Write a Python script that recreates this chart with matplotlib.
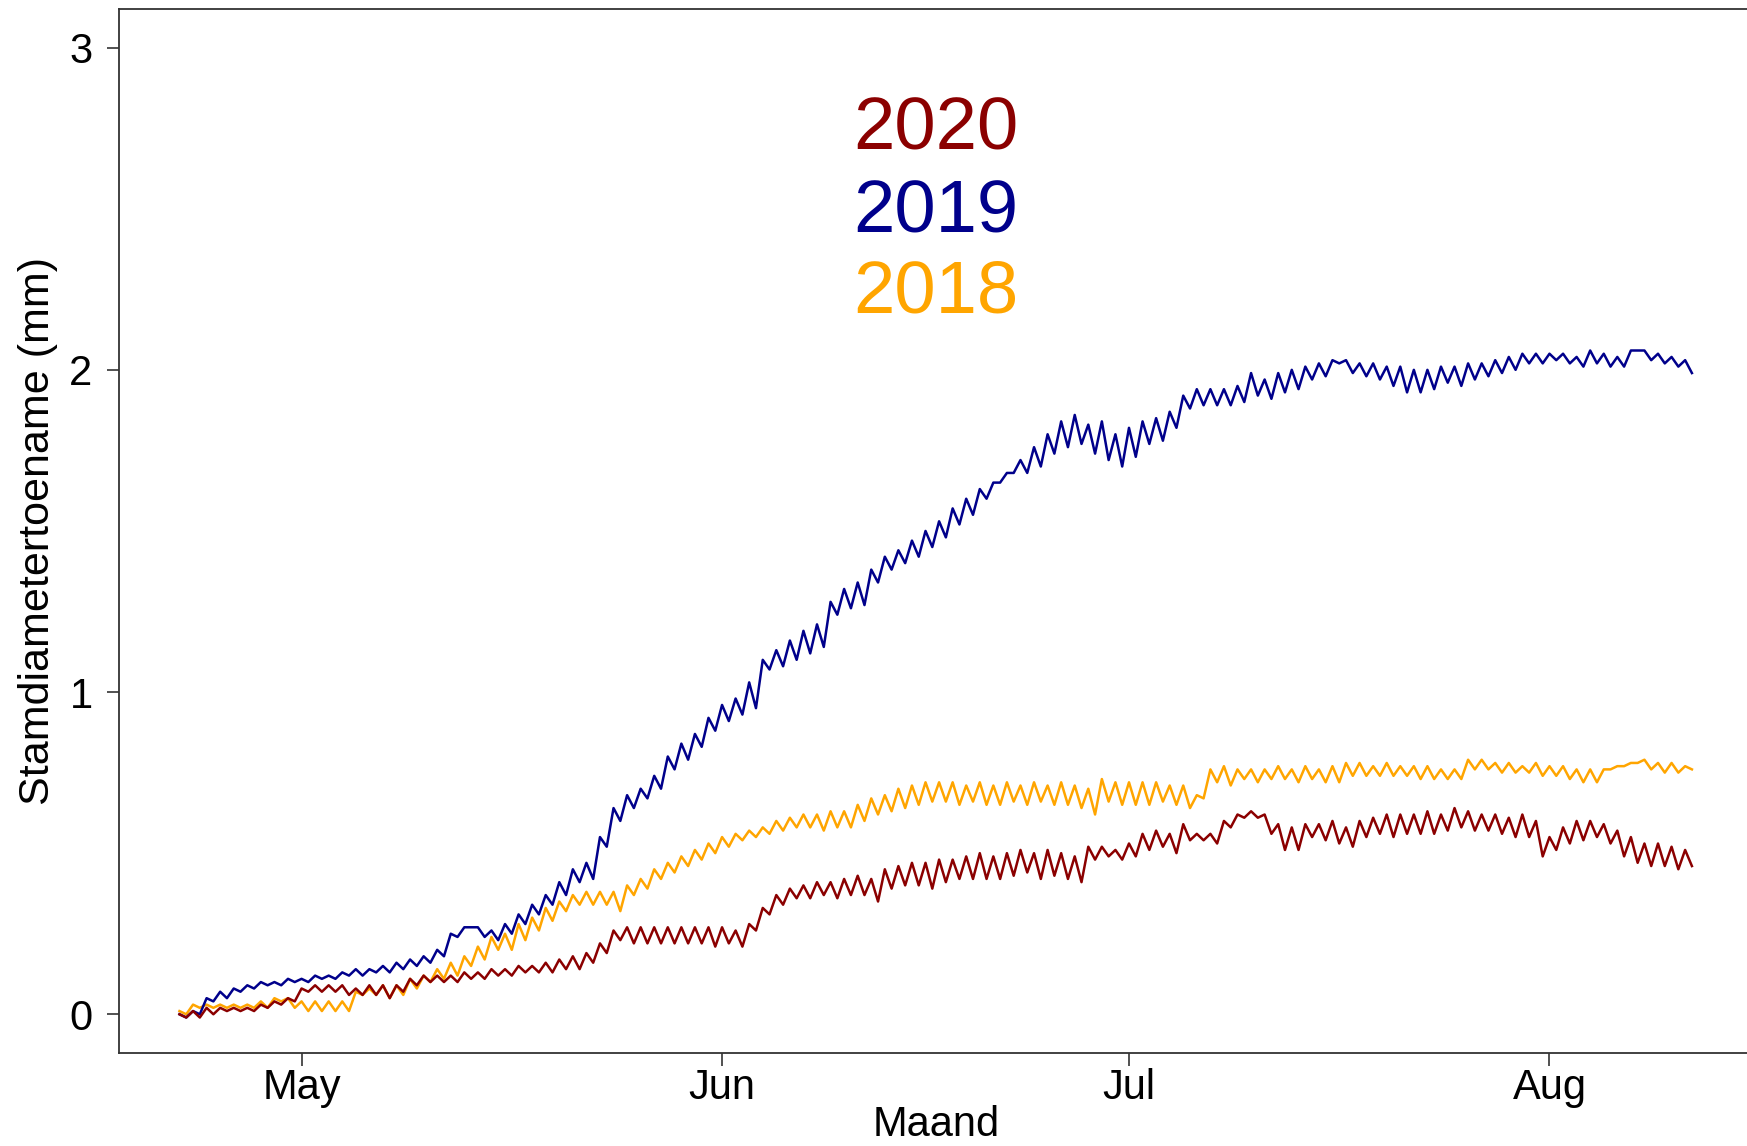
#!/usr/bin/env python3
# stem diameter increment, three growing seasons on one month axis

import numpy as np
import pandas as pd
import matplotlib
matplotlib.use('Agg')
import matplotlib.pyplot as plt
import matplotlib.dates as mdates

plt.rcParams['font.family'] = ['Liberation Sans', 'DejaVu Sans']

# twice-daily readings (morning high, afternoon low) from 22 April on, in mm
start_date = '2020-04-22'
step = '12h'

val_2019 = [
    0.00, -0.01, 0.01, 0.00, 0.05, 0.04, 0.07, 0.05, 0.08, 0.07, 0.09, 0.08, 0.10, 0.09,
    0.10, 0.09, 0.11, 0.10, 0.11, 0.10, 0.12, 0.11, 0.12, 0.11, 0.13, 0.12, 0.14, 0.12,
    0.14, 0.13, 0.15, 0.13, 0.16, 0.14, 0.17, 0.15, 0.18, 0.16, 0.20, 0.18, 0.25, 0.24,
    0.27, 0.27, 0.27, 0.24, 0.26, 0.23, 0.28, 0.25, 0.31, 0.28, 0.34, 0.31, 0.37, 0.34,
    0.41, 0.37, 0.45, 0.41, 0.47, 0.42, 0.55, 0.52, 0.64, 0.60, 0.68, 0.64, 0.70, 0.67,
    0.74, 0.70, 0.80, 0.76, 0.84, 0.79, 0.87, 0.83, 0.92, 0.88, 0.96, 0.91, 0.98, 0.93,
    1.03, 0.95, 1.10, 1.07, 1.13, 1.08, 1.16, 1.10, 1.19, 1.12, 1.21, 1.14, 1.28, 1.24,
    1.32, 1.26, 1.34, 1.27, 1.38, 1.34, 1.42, 1.38, 1.44, 1.40, 1.47, 1.42, 1.50, 1.45,
    1.53, 1.48, 1.57, 1.52, 1.60, 1.55, 1.63, 1.60, 1.65, 1.65, 1.68, 1.68, 1.72, 1.68,
    1.76, 1.70, 1.80, 1.74, 1.84, 1.76, 1.86, 1.77, 1.83, 1.74, 1.84, 1.72, 1.80, 1.70,
    1.82, 1.73, 1.84, 1.77, 1.85, 1.78, 1.87, 1.82, 1.92, 1.88, 1.94, 1.89, 1.94, 1.89,
    1.94, 1.89, 1.95, 1.90, 1.99, 1.92, 1.97, 1.91, 1.99, 1.93, 2.00, 1.94, 2.01, 1.97,
    2.02, 1.98, 2.03, 2.02, 2.03, 1.99, 2.02, 1.98, 2.02, 1.97, 2.01, 1.95, 2.01, 1.93,
    2.00, 1.93, 2.00, 1.94, 2.01, 1.96, 2.01, 1.95, 2.02, 1.97, 2.02, 1.98, 2.03, 1.99,
    2.04, 2.00, 2.05, 2.02, 2.05, 2.02, 2.05, 2.03, 2.05, 2.02, 2.04, 2.01, 2.06, 2.02,
    2.05, 2.01, 2.04, 2.01, 2.06, 2.06, 2.06, 2.03, 2.05, 2.02, 2.04, 2.01, 2.03, 1.99,
]

val_2018 = [
    0.01, 0.00, 0.03, 0.02, 0.03, 0.02, 0.03, 0.02, 0.03, 0.02, 0.03, 0.02, 0.04, 0.02,
    0.05, 0.04, 0.05, 0.02, 0.04, 0.01, 0.04, 0.01, 0.04, 0.01, 0.04, 0.01, 0.07, 0.06,
    0.08, 0.06, 0.09, 0.05, 0.09, 0.06, 0.11, 0.08, 0.12, 0.10, 0.14, 0.11, 0.16, 0.12,
    0.18, 0.15, 0.21, 0.17, 0.24, 0.20, 0.25, 0.20, 0.28, 0.23, 0.30, 0.26, 0.33, 0.29,
    0.35, 0.32, 0.37, 0.34, 0.38, 0.34, 0.38, 0.34, 0.38, 0.32, 0.40, 0.37, 0.42, 0.39,
    0.45, 0.42, 0.47, 0.44, 0.49, 0.46, 0.51, 0.48, 0.53, 0.50, 0.55, 0.52, 0.56, 0.54,
    0.57, 0.55, 0.58, 0.56, 0.60, 0.57, 0.61, 0.58, 0.62, 0.58, 0.62, 0.57, 0.63, 0.58,
    0.63, 0.58, 0.65, 0.60, 0.67, 0.62, 0.68, 0.63, 0.70, 0.64, 0.71, 0.65, 0.72, 0.66,
    0.72, 0.66, 0.72, 0.65, 0.71, 0.66, 0.72, 0.65, 0.71, 0.65, 0.72, 0.66, 0.71, 0.65,
    0.72, 0.66, 0.71, 0.65, 0.72, 0.65, 0.71, 0.64, 0.70, 0.62, 0.73, 0.66, 0.72, 0.65,
    0.72, 0.65, 0.72, 0.65, 0.72, 0.66, 0.71, 0.65, 0.71, 0.64, 0.68, 0.67, 0.76, 0.72,
    0.77, 0.71, 0.76, 0.73, 0.76, 0.72, 0.76, 0.73, 0.77, 0.73, 0.76, 0.72, 0.77, 0.73,
    0.76, 0.72, 0.77, 0.72, 0.78, 0.74, 0.78, 0.74, 0.77, 0.74, 0.78, 0.74, 0.77, 0.74,
    0.77, 0.73, 0.77, 0.73, 0.76, 0.73, 0.76, 0.73, 0.79, 0.76, 0.79, 0.76, 0.78, 0.75,
    0.78, 0.75, 0.77, 0.75, 0.78, 0.74, 0.77, 0.74, 0.77, 0.73, 0.76, 0.72, 0.76, 0.72,
    0.76, 0.76, 0.77, 0.77, 0.78, 0.78, 0.79, 0.76, 0.78, 0.75, 0.78, 0.75, 0.77, 0.76,
]

val_2020 = [
    0.00, -0.01, 0.01, -0.01, 0.02, 0.00, 0.02, 0.01, 0.02, 0.01, 0.02, 0.01, 0.03, 0.02,
    0.04, 0.03, 0.05, 0.04, 0.08, 0.07, 0.09, 0.07, 0.09, 0.07, 0.09, 0.06, 0.08, 0.06,
    0.09, 0.06, 0.09, 0.05, 0.09, 0.07, 0.11, 0.09, 0.12, 0.10, 0.12, 0.10, 0.12, 0.10,
    0.13, 0.11, 0.13, 0.11, 0.14, 0.12, 0.14, 0.12, 0.15, 0.13, 0.15, 0.13, 0.16, 0.13,
    0.17, 0.14, 0.18, 0.14, 0.19, 0.16, 0.22, 0.19, 0.26, 0.23, 0.27, 0.22, 0.27, 0.22,
    0.27, 0.22, 0.27, 0.22, 0.27, 0.22, 0.27, 0.22, 0.27, 0.21, 0.27, 0.22, 0.26, 0.21,
    0.28, 0.26, 0.33, 0.31, 0.37, 0.34, 0.39, 0.36, 0.40, 0.36, 0.41, 0.37, 0.41, 0.36,
    0.42, 0.37, 0.43, 0.37, 0.42, 0.35, 0.45, 0.39, 0.46, 0.40, 0.47, 0.40, 0.47, 0.39,
    0.48, 0.41, 0.48, 0.42, 0.49, 0.42, 0.50, 0.42, 0.49, 0.42, 0.50, 0.43, 0.51, 0.44,
    0.50, 0.42, 0.51, 0.43, 0.50, 0.42, 0.49, 0.41, 0.52, 0.48, 0.52, 0.49, 0.51, 0.48,
    0.53, 0.49, 0.56, 0.51, 0.57, 0.52, 0.56, 0.50, 0.59, 0.54, 0.56, 0.54, 0.56, 0.53,
    0.60, 0.58, 0.62, 0.61, 0.63, 0.61, 0.62, 0.56, 0.59, 0.51, 0.58, 0.51, 0.59, 0.55,
    0.59, 0.54, 0.60, 0.53, 0.58, 0.52, 0.60, 0.55, 0.61, 0.56, 0.62, 0.55, 0.62, 0.56,
    0.62, 0.56, 0.63, 0.56, 0.62, 0.57, 0.64, 0.58, 0.63, 0.57, 0.62, 0.57, 0.62, 0.56,
    0.61, 0.55, 0.62, 0.55, 0.60, 0.49, 0.55, 0.51, 0.58, 0.53, 0.60, 0.54, 0.60, 0.55,
    0.59, 0.53, 0.57, 0.49, 0.55, 0.47, 0.53, 0.46, 0.53, 0.46, 0.52, 0.45, 0.51, 0.46,
]

years = ['2020', '2019', '2018']
colors = {'2020': '#8B0000', '2019': '#00008B', '2018': '#FFA500'}
series = {'2020': val_2020, '2019': val_2019, '2018': val_2018}

y_ticks = [0, 1, 2, 3]

fig = plt.figure(figsize=(17.47, 11.46), dpi=100)
ax = fig.add_axes([0.0681, 0.0812, 0.935, 0.911])

# draw 2018 first so the later years sit on top
for yr in ['2018', '2019', '2020']:
    vals = series[yr]
    t = pd.date_range(start_date, periods=len(vals), freq=step)
    ax.plot(t, vals, color=colors[yr], linewidth=1.8)

ax.margins(x=0.04)
ax.set_ylim(-0.12, 3.12)
ax.set_yticks(y_ticks)

ax.xaxis.set_major_locator(mdates.MonthLocator())
ax.xaxis.set_major_formatter(mdates.DateFormatter('%b'))

edge = '#333333'
for side in ['left', 'bottom', 'top', 'right']:
    ax.spines[side].set_color(edge)
    ax.spines[side].set_linewidth(1.3)

ax.tick_params(axis='both', direction='out', length=9, width=1.2, color=edge,
               labelsize=30, labelcolor='black')
ax.tick_params(axis='x', pad=2)
ax.tick_params(axis='y', pad=10)

ax.set_xlabel('Maand', fontsize=30, labelpad=-2)
ax.set_ylabel('Stamdiametertoename (mm)', fontsize=31, labelpad=8)

# year labels in place of a legend box
legend_y = [0.884, 0.805, 0.728]
for yr, yy in zip(years, legend_y):
    ax.text(0.5, yy, yr, color=colors[yr], fontsize=53.5, ha='center', va='center',
            transform=ax.transAxes)

fig.savefig('out.png', dpi=100)
print('saved out.png')
